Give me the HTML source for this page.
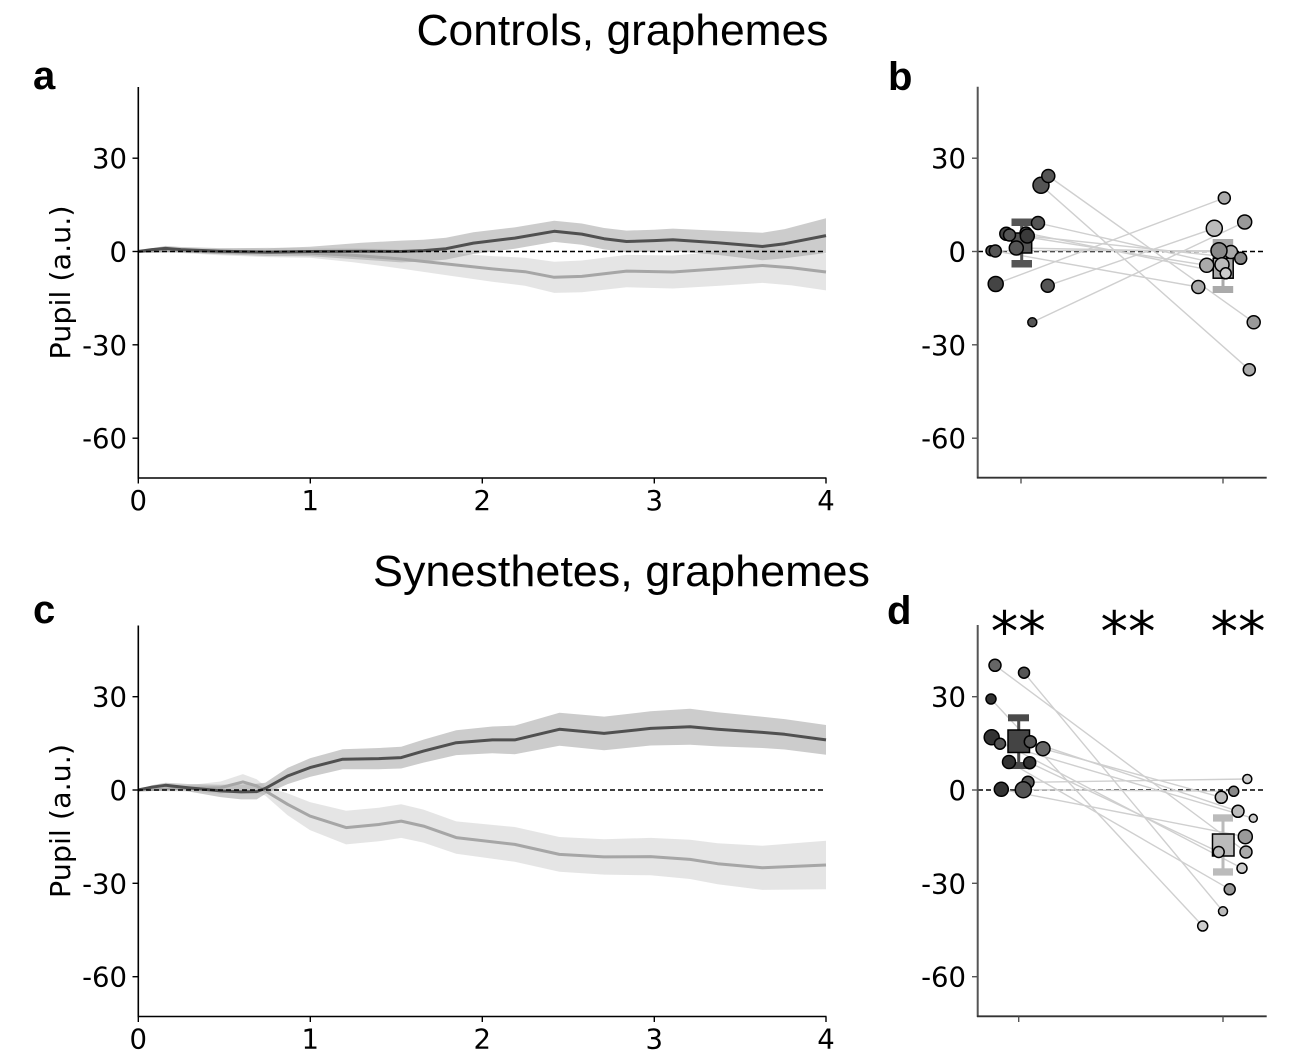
<!DOCTYPE html>
<html>
<head>
<meta charset="utf-8">
<style>
html,body{margin:0;padding:0;background:#fff;}
svg{display:block;}
.tk{font-family:"DejaVu Sans","Liberation Sans",sans-serif;font-size:27.5px;fill:#000;}
.ttl{font-family:"Liberation Sans",Arial,sans-serif;font-size:44px;fill:#000;}
.pl{font-family:"Liberation Sans",Arial,sans-serif;font-size:40px;font-weight:bold;fill:#000;}
.st{font-family:"DejaVu Sans",sans-serif;font-size:55px;fill:#000;}
</style>
</head>
<body>
<svg width="1296" height="1062" viewBox="0 0 1296 1062" xmlns="http://www.w3.org/2000/svg">
<rect width="1296" height="1062" fill="#fff"/>

<!-- Titles -->
<text class="ttl" x="622.5" y="45" text-anchor="middle" textLength="412" lengthAdjust="spacingAndGlyphs">Controls, graphemes</text>
<text class="ttl" x="621.5" y="586" text-anchor="middle" textLength="497" lengthAdjust="spacingAndGlyphs">Synesthetes, graphemes</text>

<!-- Panel letters -->
<text class="pl" x="33" y="89">a</text>
<text class="pl" x="888" y="90">b</text>
<text class="pl" x="33" y="623">c</text>
<text class="pl" x="887" y="624">d</text>

<!-- ================= Panel a ================= -->
<polygon fill="#555" fill-opacity="0.3" points="138,251.5 151.8,248.4 165.5,245.9 181,247.0 220.6,248.1 267,248.2 310,246.8 361.6,242.8 401.2,240.6 423.5,239.7 445.9,237.8 473.4,232.2 514.7,227.4 554.2,220.7 581.8,223.5 604.1,228.0 626.5,230.6 654,229.7 672.9,228.6 717.6,230.7 762.4,232.8 784.7,229.1 826,218.2 826,253.0 784.7,258.3 762.4,260.2 717.6,254.9 672.9,251.0 654,251.5 626.5,252.4 604.1,249.4 581.8,244.7 554.2,241.9 514.7,248.8 473.4,254.0 445.9,259.6 423.5,261.5 401.2,262.4 361.6,259.6 310,256.2 267,256.0 220.6,254.3 181,252.2 165.5,250.9 151.8,250.8"/>
<polygon fill="#aaa" fill-opacity="0.3" points="138,251.5 172.4,248.7 218.8,249.0 267,247.7 310,248.4 353,248.2 401.2,249.4 445.9,252.7 492.3,256.1 525,257.7 554.2,261.7 581.8,260.5 626.5,254.9 672.9,255.5 717.6,251.9 762.4,248.1 791.6,250.0 826,253.6 826,290.4 791.6,285.4 762.4,282.9 717.6,285.9 672.9,288.5 626.5,287.3 581.8,292.3 554.2,292.9 525,285.7 492.3,281.7 445.9,275.1 401.2,268.6 353,262.2 310,257.8 267,257.1 218.8,255.2 172.4,252.5"/>
<polyline fill="none" stroke="#a6a6a6" stroke-width="3" stroke-linejoin="round" points="138,251.5 172.4,250.6 218.8,252.1 267,252.4 310,253.1 353,255.2 401.2,259.0 445.9,263.9 492.3,268.9 525,271.7 554.2,277.3 581.8,276.4 626.5,271.1 672.9,272.0 717.6,268.9 762.4,265.5 791.6,267.7 826,272.0"/>
<polyline fill="none" stroke="#505050" stroke-width="3" stroke-linejoin="round" points="138,251.5 151.8,249.6 165.5,248.4 181,249.6 220.6,251.2 267,252.1 310,251.5 361.6,251.2 401.2,251.5 423.5,250.6 445.9,248.7 473.4,243.1 514.7,238.1 554.2,231.3 581.8,234.1 604.1,238.7 626.5,241.5 654,240.6 672.9,239.8 717.6,242.8 762.4,246.5 784.7,243.7 826,235.6"/>
<line x1="138" y1="251.5" x2="826" y2="251.5" stroke="#000" stroke-width="1.5" stroke-dasharray="5,3"/>
<line x1="138.3" y1="87" x2="138.3" y2="478.5" stroke="#000" stroke-width="1.6"/>
<line x1="137.5" y1="478" x2="826.5" y2="478" stroke="#000" stroke-width="1.6"/>
<g stroke="#000" stroke-width="1.4">
<line x1="132.5" y1="158.2" x2="138" y2="158.2"/>
<line x1="132.5" y1="251.5" x2="138" y2="251.5"/>
<line x1="132.5" y1="344.8" x2="138" y2="344.8"/>
<line x1="132.5" y1="438.2" x2="138" y2="438.2"/>
<line x1="138.3" y1="478" x2="138.3" y2="483.5"/>
<line x1="310.3" y1="478" x2="310.3" y2="483.5"/>
<line x1="482.3" y1="478" x2="482.3" y2="483.5"/>
<line x1="654.3" y1="478" x2="654.3" y2="483.5"/>
<line x1="826" y1="478" x2="826" y2="483.5"/>
</g>
<g class="tk" text-anchor="end">
<text x="127" y="168.2">30</text>
<text x="127" y="261.5">0</text>
<text x="127" y="354.8">-30</text>
<text x="127" y="448.2">-60</text>
</g>
<g class="tk" text-anchor="middle">
<text x="138.3" y="510">0</text>
<text x="310.3" y="510">1</text>
<text x="482.3" y="510">2</text>
<text x="654.3" y="510">3</text>
<text x="826" y="510">4</text>
</g>
<text class="tk" transform="translate(70,282.5) rotate(-90)" text-anchor="middle" textLength="154" lengthAdjust="spacingAndGlyphs">Pupil (a.u.)</text>

<!-- ================= Panel c ================= -->
<polygon fill="#555" fill-opacity="0.3" points="138,790 151.8,785.3 165.5,782.8 187.9,784.0 220.6,784.7 241.2,784.4 256.7,783.8 265.3,782.8 287.6,767.9 310,758.3 342.7,749.2 378.8,748.0 401.2,746.7 423.5,739.6 456.2,730.3 492.3,726.5 514.7,725.6 559.4,712.8 604.1,716.6 650.6,711.3 690.1,708.8 717.6,712.2 762.4,716.8 784.7,719.1 826,725.0 826,754.8 784.7,749.5 762.4,748.0 717.6,746.4 690.1,744.8 650.6,745.5 604.1,750.2 559.4,745.8 514.7,754.2 492.3,753.3 456.2,755.1 423.5,762.6 401.2,768.5 378.8,769.2 342.7,769.2 310,776.9 287.6,784.1 265.3,794.0 256.7,799.4 241.2,799.4 220.6,797.1 187.9,791.4 165.5,787.8 151.8,789.1"/>
<polygon fill="#aaa" fill-opacity="0.3" points="138,790 165.5,786.9 187.9,785.3 220.6,781.5 242.9,774.1 256.7,779.2 265.3,786.2 287.6,793.4 310,802.1 346.1,810.8 378.8,807.7 401.2,804.3 423.5,809.6 456.2,821.4 514.7,827.0 559.4,837.0 604.1,839.2 650.6,837.9 690.1,839.8 717.6,843.2 762.4,845.7 826,840.7 826,889.3 762.4,889.9 717.6,884.2 690.1,879.0 650.6,875.3 604.1,874.6 559.4,871.8 514.7,861.8 456.2,853.8 423.5,842.6 401.2,837.9 378.8,841.3 346.1,844.4 310,830.1 287.6,815.2 265.3,795.6 256.7,792.8 242.9,789.7 220.6,793.9 187.9,791.5 165.5,791.3"/>
<polyline fill="none" stroke="#a6a6a6" stroke-width="3" stroke-linejoin="round" points="138,790 165.5,789.1 187.9,788.4 220.6,787.7 242.9,781.9 256.7,786.0 265.3,790.9 287.6,804.3 310,816.1 346.1,827.6 378.8,824.5 401.2,821.1 423.5,826.1 456.2,837.6 514.7,844.4 559.4,854.4 604.1,856.9 650.6,856.6 690.1,859.4 717.6,863.7 762.4,867.8 826,865.0"/>
<polyline fill="none" stroke="#505050" stroke-width="3" stroke-linejoin="round" points="138,790 151.8,787.2 165.5,785.3 187.9,787.7 220.6,790.9 241.2,791.9 256.7,791.6 265.3,788.4 287.6,776.0 310,767.6 342.7,759.2 378.8,758.6 401.2,757.6 423.5,751.1 456.2,742.7 492.3,739.9 514.7,739.9 559.4,729.3 604.1,733.4 650.6,728.4 690.1,726.8 717.6,729.3 762.4,732.4 784.7,734.3 826,739.9"/>
<line x1="138" y1="790" x2="826" y2="790" stroke="#000" stroke-width="1.5" stroke-dasharray="5,3"/>
<line x1="138.3" y1="625.5" x2="138.3" y2="1017" stroke="#000" stroke-width="1.6"/>
<line x1="137.5" y1="1016.5" x2="826.5" y2="1016.5" stroke="#000" stroke-width="1.6"/>
<g stroke="#000" stroke-width="1.4">
<line x1="132.5" y1="696.7" x2="138" y2="696.7"/>
<line x1="132.5" y1="790" x2="138" y2="790"/>
<line x1="132.5" y1="883.3" x2="138" y2="883.3"/>
<line x1="132.5" y1="976.7" x2="138" y2="976.7"/>
<line x1="138.3" y1="1016.5" x2="138.3" y2="1022"/>
<line x1="310.3" y1="1016.5" x2="310.3" y2="1022"/>
<line x1="482.3" y1="1016.5" x2="482.3" y2="1022"/>
<line x1="654.3" y1="1016.5" x2="654.3" y2="1022"/>
<line x1="826" y1="1016.5" x2="826" y2="1022"/>
</g>
<g class="tk" text-anchor="end">
<text x="127" y="706.7">30</text>
<text x="127" y="800">0</text>
<text x="127" y="893.3">-30</text>
<text x="127" y="986.7">-60</text>
</g>
<g class="tk" text-anchor="middle">
<text x="138.3" y="1048.5">0</text>
<text x="310.3" y="1048.5">1</text>
<text x="482.3" y="1048.5">2</text>
<text x="654.3" y="1048.5">3</text>
<text x="826" y="1048.5">4</text>
</g>
<text class="tk" transform="translate(70,821) rotate(-90)" text-anchor="middle" textLength="154" lengthAdjust="spacingAndGlyphs">Pupil (a.u.)</text>

<!-- ================= Panel b ================= -->
<line x1="978" y1="251.5" x2="1266" y2="251.5" stroke="#000" stroke-width="1.5" stroke-dasharray="5,3"/>
<g stroke="#cfcfcf" stroke-width="1.4">
<line x1="1048.3" y1="176" x2="1253.7" y2="322.3"/>
<line x1="1041" y1="185.3" x2="1249.3" y2="369.7"/>
<line x1="995.7" y1="284" x2="1224.3" y2="198"/>
<line x1="1032.3" y1="322.3" x2="1244.7" y2="222"/>
<line x1="1047.7" y1="285.7" x2="1214.3" y2="228.3"/>
<line x1="1038" y1="223" x2="1222" y2="264.7"/>
<line x1="1006.3" y1="233.7" x2="1206.7" y2="265.3"/>
<line x1="1027.3" y1="236" x2="1240.7" y2="258.3"/>
<line x1="1016.3" y1="248" x2="1231" y2="252"/>
<line x1="995.3" y1="251" x2="1198.3" y2="287"/>
<line x1="1026" y1="233" x2="1225.7" y2="273.3"/>
<line x1="991" y1="250.7" x2="1219" y2="250.7"/>
</g>
<g fill="#555">
<rect x="1020.2" y="222" width="3" height="42"/>
<rect x="1011.5" y="218.5" width="20.5" height="7.5"/>
<rect x="1011.5" y="260" width="20.5" height="7.5"/>
</g>
<rect x="1011.7" y="233" width="20" height="20" fill="#555" stroke="#000" stroke-width="1.5"/>
<g fill="#aaa">
<rect x="1221.5" y="242" width="3" height="48"/>
<rect x="1212.7" y="239" width="20.5" height="7"/>
<rect x="1212.7" y="286" width="20.5" height="7"/>
</g>
<rect x="1213.2" y="258.2" width="20" height="20" fill="#aaa" stroke="#000" stroke-width="1.5"/>
<g stroke="#000" stroke-width="1.5">
<circle cx="991" cy="250.7" r="5" fill="#555"/>
<circle cx="995.3" cy="251" r="6" fill="#555"/>
<circle cx="995.7" cy="284" r="7.5" fill="#444"/>
<circle cx="1032.3" cy="322.3" r="4.5" fill="#555"/>
<circle cx="1047.7" cy="285.7" r="6.5" fill="#555"/>
<circle cx="1041" cy="185.3" r="8" fill="#555"/>
<circle cx="1048.3" cy="176" r="6.5" fill="#555"/>
<circle cx="1038" cy="223" r="6.5" fill="#555"/>
<circle cx="1006.3" cy="233.7" r="6.5" fill="#444"/>
<circle cx="1009.5" cy="235" r="6" fill="#555"/>
<circle cx="1026" cy="233" r="6" fill="#555"/>
<circle cx="1027.3" cy="236" r="7" fill="#3a3a3a"/>
<circle cx="1016.3" cy="248" r="7" fill="#555"/>

<circle cx="1224.3" cy="198" r="6" fill="#aaa"/>
<circle cx="1214.3" cy="228.3" r="8" fill="#bbb"/>
<circle cx="1244.7" cy="222" r="7" fill="#999"/>
<circle cx="1231" cy="252" r="6.5" fill="#aaa"/>
<circle cx="1219" cy="250.7" r="8" fill="#888"/>
<circle cx="1240.7" cy="258.3" r="6" fill="#888"/>
<circle cx="1206.7" cy="265.3" r="7" fill="#aaa"/>
<circle cx="1222" cy="264.7" r="7" fill="#bbb"/>
<circle cx="1225.7" cy="273.3" r="5.5" fill="#ccc"/>
<circle cx="1198.3" cy="287" r="6.5" fill="#aaa"/>
<circle cx="1253.7" cy="322.3" r="6.5" fill="#999"/>
<circle cx="1249.3" cy="369.7" r="6" fill="#aaa"/>
</g>
<line x1="977.7" y1="86.7" x2="977.7" y2="478.5" stroke="#555" stroke-width="2"/>
<line x1="977" y1="477.7" x2="1266.7" y2="477.7" stroke="#333" stroke-width="1.8"/>
<g stroke="#555" stroke-width="1.4">
<line x1="972" y1="158.2" x2="977.5" y2="158.2"/>
<line x1="972" y1="251.5" x2="977.5" y2="251.5"/>
<line x1="972" y1="344.8" x2="977.5" y2="344.8"/>
<line x1="972" y1="438.2" x2="977.5" y2="438.2"/>
<line x1="1021" y1="478" x2="1021" y2="483.5"/>
<line x1="1223" y1="478" x2="1223" y2="483.5"/>
</g>
<g class="tk" text-anchor="end">
<text x="966" y="168.2">30</text>
<text x="966" y="261.5">0</text>
<text x="966" y="354.8">-30</text>
<text x="966" y="448.2">-60</text>
</g>

<!-- ================= Panel d ================= -->
<line x1="978" y1="790" x2="1266" y2="790" stroke="#000" stroke-width="1.5" stroke-dasharray="5,3"/>
<g stroke="#cfcfcf" stroke-width="1.4">
<line x1="995" y1="665.3" x2="1246" y2="852"/>
<line x1="1024" y1="672.7" x2="1223" y2="911.3"/>
<line x1="991" y1="699" x2="1202.7" y2="926"/>
<line x1="1043" y1="748.7" x2="1221.3" y2="797.3"/>
<line x1="1030.3" y1="741.7" x2="1238" y2="811.3"/>
<line x1="1029.7" y1="762.7" x2="1218.7" y2="852"/>
<line x1="1028" y1="782.3" x2="1247.3" y2="779"/>
<line x1="1023.3" y1="789.7" x2="1233.7" y2="791.3"/>
<line x1="1009" y1="762" x2="1229.7" y2="889.3"/>
<line x1="991.7" y1="737.3" x2="1242" y2="868.3"/>
<line x1="1000" y1="743.7" x2="1253.3" y2="818.3"/>
<line x1="1001.3" y1="789.3" x2="1245.3" y2="836.7"/>
</g>
<g fill="#4a4a4a">
<rect x="1017.2" y="718" width="3" height="48"/>
<rect x="1008" y="714.3" width="21" height="7"/>
<rect x="1008" y="762" width="21" height="7"/>
</g>
<rect x="1008" y="730" width="21.5" height="22.5" fill="#444" stroke="#000" stroke-width="1.5"/>
<g fill="#bbb">
<rect x="1221.5" y="818" width="3" height="54"/>
<rect x="1213" y="814.3" width="20" height="7.3"/>
<rect x="1213" y="868.3" width="20" height="7.3"/>
</g>
<rect x="1212.5" y="834" width="21.5" height="22" fill="#bbb" stroke="#000" stroke-width="1.5"/>
<g stroke="#000" stroke-width="1.5">
<circle cx="995" cy="665.3" r="6" fill="#666"/>
<circle cx="1024" cy="672.7" r="5.5" fill="#555"/>
<circle cx="991" cy="699" r="5" fill="#333"/>
<circle cx="991.7" cy="737.3" r="7.5" fill="#333"/>
<circle cx="1000" cy="743.7" r="5.5" fill="#555"/>
<circle cx="1030.3" cy="741.7" r="6" fill="#555"/>
<circle cx="1043" cy="748.7" r="7" fill="#666"/>
<circle cx="1009" cy="762" r="6.5" fill="#333"/>
<circle cx="1029.7" cy="762.7" r="6" fill="#333"/>
<circle cx="1028" cy="782.3" r="6" fill="#555"/>
<circle cx="1001.3" cy="789.3" r="7" fill="#333"/>
<circle cx="1023.3" cy="789.7" r="8" fill="#555"/>

<circle cx="1247.3" cy="779" r="4.5" fill="#ccc"/>
<circle cx="1233.7" cy="791.3" r="5" fill="#888"/>
<circle cx="1221.3" cy="797.3" r="6" fill="#bbb"/>
<circle cx="1238" cy="811.3" r="6" fill="#bbb"/>
<circle cx="1253.3" cy="818.3" r="4" fill="#ccc"/>
<circle cx="1245.3" cy="836.7" r="7" fill="#999"/>
<circle cx="1218.7" cy="852" r="5.5" fill="#bbb"/>
<circle cx="1246" cy="852" r="6" fill="#aaa"/>
<circle cx="1242" cy="868.3" r="5" fill="#ccc"/>
<circle cx="1229.7" cy="889.3" r="5.5" fill="#999"/>
<circle cx="1223" cy="911.3" r="4.5" fill="#bbb"/>
<circle cx="1202.7" cy="926" r="5" fill="#ccc"/>
</g>
<line x1="977.7" y1="625" x2="977.7" y2="1017" stroke="#555" stroke-width="2"/>
<line x1="977" y1="1016.3" x2="1266.7" y2="1016.3" stroke="#333" stroke-width="1.8"/>
<g stroke="#555" stroke-width="1.4">
<line x1="972" y1="696.7" x2="977.5" y2="696.7"/>
<line x1="972" y1="790" x2="977.5" y2="790"/>
<line x1="972" y1="883.3" x2="977.5" y2="883.3"/>
<line x1="972" y1="976.7" x2="977.5" y2="976.7"/>
<line x1="1018.7" y1="1016.5" x2="1018.7" y2="1022"/>
<line x1="1223" y1="1016.5" x2="1223" y2="1022"/>
</g>
<g class="tk" text-anchor="end">
<text x="966" y="706.7">30</text>
<text x="966" y="800">0</text>
<text x="966" y="893.3">-30</text>
<text x="966" y="986.7">-60</text>
</g>
<g class="st" text-anchor="middle">
<text x="1018.3" y="651">**</text>
<text x="1128" y="651">**</text>
<text x="1238" y="651">**</text>
</g>
</svg>
</body>
</html>
